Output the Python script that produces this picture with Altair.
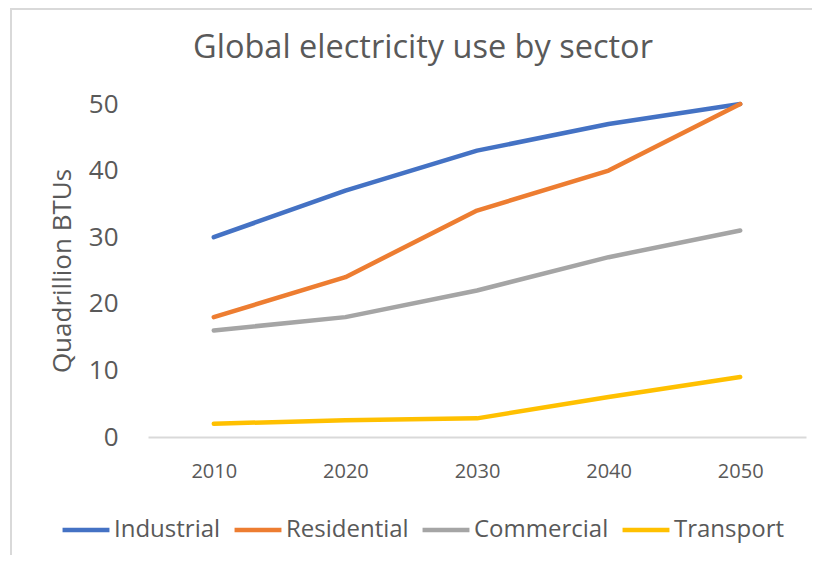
import altair as alt
import pandas as pd

years = ["2010", "2020", "2030", "2040", "2050"]
sectors = ["Industrial", "Residential", "Commercial", "Transport"]
industrial = [30, 37, 43, 47, 50]
residential = [18, 24, 34, 40, 50]
commercial = [16, 18, 22, 27, 31]
transport = [2, 2.5, 2.8, 6, 9]
colors = ["#4472C4", "#ED7D31", "#A5A5A5", "#FFC000"]

rows = []
for name, vals in zip(sectors, [industrial, residential, commercial, transport]):
    for y, v in zip(years, vals):
        rows.append({"Year": y, "Sector": name, "Value": v})
df = pd.DataFrame(rows)

W, H = 658, 333
FONT = "Open Sans"
GREY = "#595959"

lines = alt.Chart(df).mark_line(strokeWidth=4.5, interpolate="linear", strokeCap="round", strokeJoin="round").encode(
    x=alt.X("Year:N", sort=years, scale=alt.Scale(type="point", padding=0.5),
            axis=alt.Axis(title=None, labelAngle=0, labelFontSize=20, labelColor=GREY, labelFont=FONT,
                          labelPadding=24, ticks=False, domainColor="#D9D9D9", domainWidth=2, grid=False)),
    y=alt.Y("Value:Q", scale=alt.Scale(domain=[0, 50], nice=False),
            axis=alt.Axis(title="Quadrillion BTUs", titleFontSize=26, titleFont=FONT, titleColor=GREY,
                          titleFontWeight="normal", titlePadding=13,
                          values=[0, 10, 20, 30, 40, 50], labelFontSize=26, labelColor=GREY, labelFont=FONT,
                          labelPadding=30, ticks=False, domain=False, grid=False)),
    color=alt.Color("Sector:N", sort=sectors, scale=alt.Scale(domain=sectors, range=colors),
                    legend=alt.Legend(title=None, orient="none", legendX=-88, legendY=400, direction="horizontal",
                                      columns=4, symbolType="stroke", symbolSize=2200, symbolStrokeWidth=4.5,
                                      labelFontSize=24, labelFont=FONT, labelColor=GREY, labelLimit=300,
                                      columnPadding=4, labelOffset=2)),
    order=alt.Order("Year:N"),
)

left_border = alt.Chart(pd.DataFrame({"a": [0]})).mark_rule(color="#D9D9D9", strokeWidth=2, clip=False).encode(
    x=alt.value(-137), y=alt.value(-96), y2=alt.value(H + 120))
top_border = alt.Chart(pd.DataFrame({"a": [0]})).mark_rule(color="#D9D9D9", strokeWidth=2, clip=False).encode(
    x=alt.value(-137), x2=alt.value(W + 6), y=alt.value(-95))

chart = alt.layer(left_border, top_border, lines).properties(
    width=W, height=H,
    background="white",
    autosize=alt.AutoSizeParams(type="none"),
    padding={"left": 140, "top": 96, "right": 6, "bottom": 118},
    title=alt.Title("Global electricity use by sector", fontSize=32.5, font=FONT, color=GREY,
                    fontWeight="normal", anchor="middle", frame="group", dx=-54, offset=-57),
).configure_view(stroke=None)

chart.save("out.html", embed_options={"renderer": "svg", "actions": False})
